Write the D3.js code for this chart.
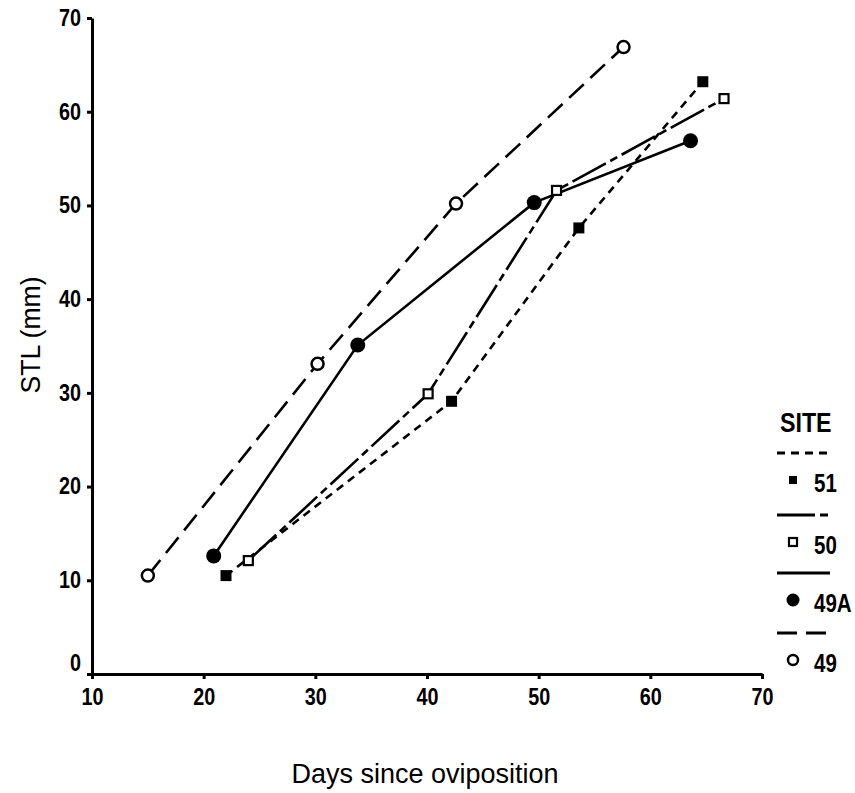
<!DOCTYPE html>
<html lang="en">
<head>
    <meta charset="UTF-8">
    <title>STL vs days since oviposition</title>
    <style>
        html, body { margin: 0; padding: 0; background: #fff; }
        svg { display: block; }
        text { font-family: "Liberation Sans", Arial, sans-serif; fill: #000; }
    </style>
</head>
<body>
    <div class="box"></div>
    <script src="https://d3js.org/d3.v7.min.js"></script>
    <script>
        // data
        const sites = ['51', '50', '49A', '49'];
        const days51 = [22.0, 42.2, 53.6, 64.7];
        const stl51 = [10.5, 29.1, 47.6, 63.2];
        const days50 = [24.0, 40.1, 51.6, 66.6];
        const stl50 = [12.1, 29.9, 51.6, 61.4];
        const days49A = [20.9, 33.8, 49.6, 63.6];
        const stl49A = [12.6, 35.1, 50.3, 56.9];
        const days49 = [15.0, 30.2, 42.6, 57.6];
        const stl49 = [10.5, 33.1, 50.2, 66.9];
        const xTicks = [10, 20, 30, 40, 50, 60, 70];
        const yTicks = [0, 10, 20, 30, 40, 50, 60, 70];

        const width = 855, height = 793;
        const margin = { top: 18, right: 93, bottom: 119, left: 92 };
        const innerWidth = width - margin.left - margin.right;
        const innerHeight = height - margin.top - margin.bottom;

        const svg = d3.select('.box').append('svg').attr('width', width).attr('height', height);
        const g = svg.append('g').attr('transform', `translate(${margin.left}, ${margin.top})`);

        const xScale = d3.scaleLinear().domain([10, 70]).range([0, innerWidth]);
        const yScale = d3.scaleLinear().domain([0, 70]).range([innerHeight, 0]);

        // squeeze text horizontally (the original uses a narrow face)
        function condense(sel, f) {
            sel.each(function () {
                const w = this.getComputedTextLength();
                d3.select(this).attr('textLength', w * f).attr('lengthAdjust', 'spacingAndGlyphs');
            });
        }

        // series styles
        const styles = {
            '51': { dash: '8,6', marker: 'square', fill: '#000', size: 11 },
            '50': { dash: '38,5,8,5', marker: 'square', fill: '#fff', size: 9 },
            '49A': { dash: null, marker: 'circle', fill: '#000', size: 7.5 },
            '49': { dash: '20,9', marker: 'circle', fill: '#fff', size: 6 }
        };
        const series = [
            { site: '51', pts: days51.map((d, i) => [d, stl51[i]]) },
            { site: '50', pts: days50.map((d, i) => [d, stl50[i]]) },
            { site: '49A', pts: days49A.map((d, i) => [d, stl49A[i]]) },
            { site: '49', pts: days49.map((d, i) => [d, stl49[i]]) }
        ];

        // axes
        const xAxis = d3.axisBottom(xScale).tickValues(xTicks).tickSize(5).tickSizeOuter(0).tickPadding(10);
        const yAxis = d3.axisLeft(yScale).tickValues(yTicks).tickSize(5).tickSizeOuter(0).tickPadding(6);

        const gx = g.append('g').attr('transform', `translate(0, ${innerHeight})`).call(xAxis);
        const gy = g.append('g').call(yAxis);
        [gx, gy].forEach(a => {
            a.select('.domain').attr('stroke', '#000').attr('stroke-width', 3);
            a.selectAll('.tick line').attr('stroke', '#000').attr('stroke-width', 3);
            a.selectAll('.tick text').attr('font-size', 23).attr('font-weight', 'bold')
                .attr('font-family', null).attr('fill', '#000')
                .call(condense, 0.86);
        });
        gy.selectAll('.tick text').filter(d => d === 0).attr('transform', 'translate(0, -11)');

        // axis titles
        svg.append('text')
            .attr('x', 425).attr('y', 783)
            .attr('text-anchor', 'middle').attr('font-size', 27)
            .text('Days since oviposition');
        svg.append('text')
            .attr('transform', 'translate(40, 335) rotate(-90)')
            .attr('text-anchor', 'middle').attr('font-size', 28)
            .text('STL (mm)')
            .call(condense, 0.95);

        const line = d3.line().x(d => xScale(d[0])).y(d => yScale(d[1]));

        function drawMarker(sel, st) {
            if (st.marker === 'circle') {
                sel.append('circle').attr('r', st.size)
                    .attr('fill', st.fill).attr('stroke', '#000')
                    .attr('stroke-width', st.fill === '#000' ? 0 : 2.5);
            } else {
                sel.append('rect')
                    .attr('x', -st.size / 2).attr('y', -st.size / 2)
                    .attr('width', st.size).attr('height', st.size)
                    .attr('fill', st.fill).attr('stroke', '#000')
                    .attr('stroke-width', st.fill === '#000' ? 0 : 2.2);
            }
        }

        // lines first, markers on top
        series.forEach(s => {
            const st = styles[s.site];
            g.append('path').datum(s.pts)
                .attr('d', line)
                .attr('fill', 'none').attr('stroke', '#000').attr('stroke-width', 2.6)
                .attr('stroke-dasharray', st.dash);
        });
        series.forEach(s => {
            const st = styles[s.site];
            g.selectAll(null).data(s.pts).enter().append('g')
                .attr('transform', d => `translate(${xScale(d[0])}, ${yScale(d[1])})`)
                .each(function () { drawMarker(d3.select(this), st); });
        });

        // legend
        const legend = svg.append('g').attr('transform', 'translate(777, 0)');
        legend.append('text').attr('x', 3).attr('y', 432).attr('font-size', 27).attr('font-weight', 'bold')
            .text('SITE').call(condense, 0.86);
        const lineY = [453, 515, 573, 633];
        sites.forEach((site, i) => {
            const st = styles[site];
            const ly = lineY[i];
            legend.append('line')
                .attr('x1', 0).attr('x2', 53).attr('y1', ly).attr('y2', ly)
                .attr('stroke', '#000').attr('stroke-width', 3)
                .attr('stroke-dasharray', st.dash);
            const my = ly + 27;
            const m = legend.append('g').attr('transform', `translate(16, ${my})`);
            drawMarker(m, { ...st, size: st.marker === 'circle' ? (st.fill === '#000' ? 6.5 : 5) : 8 });
            legend.append('text').attr('x', 37).attr('y', my + 12).attr('font-size', 25).attr('font-weight', 'bold')
                .text(site).call(condense, 0.82);
        });
    </script>
</body>
</html>
